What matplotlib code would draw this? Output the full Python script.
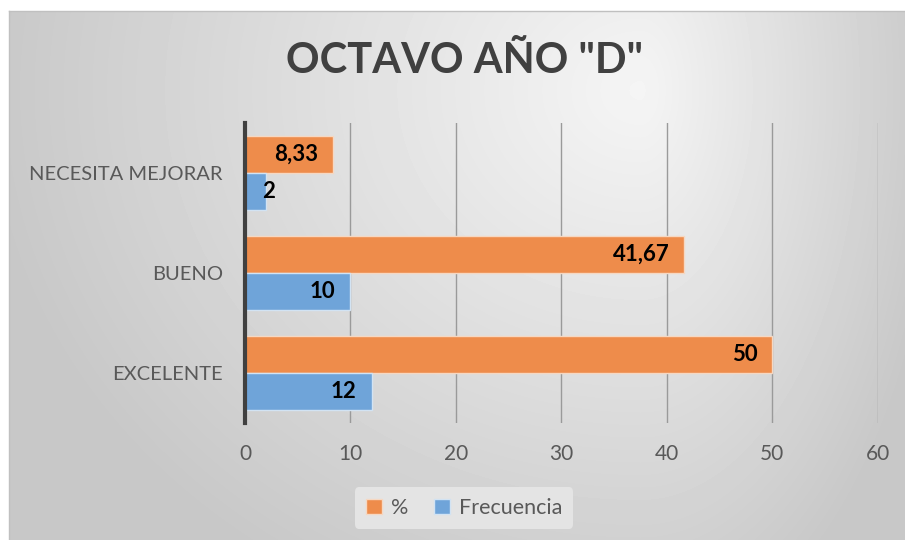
import numpy as np
import matplotlib
matplotlib.use('Agg')
import matplotlib.pyplot as plt

plt.rcParams['font.family'] = ['Lato', 'DejaVu Sans']

# --- datos ---
categorias = ['EXCELENTE', 'BUENO', 'NECESITA MEJORAR']
porcentaje = [50, 41.67, 8.33]
frecuencia = [12, 10, 2]
etiquetas_pct = ['50', '41,67', '8,33']
etiquetas_frec = ['12', '10', '2']
ticks_x = [0, 10, 20, 30, 40, 50, 60]

W, H = 905, 540
fig = plt.figure(figsize=(W / 100, H / 100), dpi=100)
fig.patch.set_facecolor('white')

# fondo con degradado (area del grafico)
bg = fig.add_axes([9 / W, 0, 1 - 9 / W, 1 - 11 / H])
yy, xx = np.mgrid[11:H, 9:W]
dx = xx - 640.0
dy = yy - 90.0
rx = np.where(dx < 0, 650.0, 300.0)
t = np.sqrt((dx / rx) ** 2 + (dy / 560.0) ** 2)
g = 0.96 - 0.175 * np.clip(t, 0, 1)
bg.imshow(g, cmap='gray', vmin=0, vmax=1, aspect='auto', interpolation='bilinear')
bg.set_xticks([])
bg.set_yticks([])
for s in bg.spines.values():
    s.set_color('#c0c0c0')
    s.set_linewidth(1)
bg.spines['right'].set_visible(False)
bg.spines['bottom'].set_visible(False)

ax = fig.add_axes([245 / W, 1 - 423 / H, (877.7 - 245) / W, 300 / H])
ax.patch.set_alpha(0)

y = np.arange(len(categorias))
h = 0.37
naranja = '#ee8c4b'
azul = '#6fa4d9'
b1 = ax.barh(y + 0.188, porcentaje, height=h, color=naranja, edgecolor='#f6d8c2',
             linewidth=1, label='%', zorder=3)
b2 = ax.barh(y - 0.188, frecuencia, height=h, color=azul, edgecolor='#d2e3f3',
             linewidth=1, label='Frecuencia', zorder=3)

for barras, etq, vals in [(b1, etiquetas_pct, porcentaje), (b2, etiquetas_frec, frecuencia)]:
    for b, e, v in zip(barras, etq, vals):
        yc = b.get_y() + b.get_height() / 2
        if v < 5:
            ax.annotate(e, (v, yc), xytext=(2, 0), textcoords='offset pixels',
                        ha='center', va='center', fontsize=16, fontweight='bold', zorder=4)
        else:
            ax.annotate(e, (v, yc), xytext=(-15, 0), textcoords='offset pixels',
                        ha='right', va='center', fontsize=16, fontweight='bold', zorder=4)

ax.set_xlim(0, 60)
ax.set_ylim(-0.5, 2.5)
ax.set_xticks(ticks_x)
ax.set_yticks(y)
ax.set_yticklabels(categorias)
ax.grid(axis='x', color='#9a9a9a', linewidth=1, zorder=0)
ax.tick_params(axis='x', length=0, pad=15, labelsize=15, labelcolor='#595959')
ax.tick_params(axis='y', length=0, pad=16, labelsize=14.5, labelcolor='#595959')
for s in ['top', 'right', 'bottom']:
    ax.spines[s].set_visible(False)
ax.spines['left'].set_color('#404040')
ax.spines['left'].set_linewidth(3)
ax.spines['left'].set_zorder(5)

fig.text(464 / W, 1 - 61 / H, 'OCTAVO AÑO "D"', ha='center', va='center',
         fontsize=30, fontweight='bold', color='#404040')

leg = fig.legend([b1, b2], ['%', 'Frecuencia'], loc='center', bbox_to_anchor=(464 / W, 1 - 508 / H),
                 ncol=2, frameon=True, fontsize=15.5, handlelength=0.75, handleheight=0.75,
                 columnspacing=1.2, handletextpad=0.4, borderpad=0.5)
leg.get_frame().set_facecolor('#e4e4e4')
leg.get_frame().set_edgecolor('none')
leg.get_frame().set_alpha(1)
for txt in leg.get_texts():
    txt.set_color('#595959')

fig.savefig('out.png', dpi=100, facecolor='white')
